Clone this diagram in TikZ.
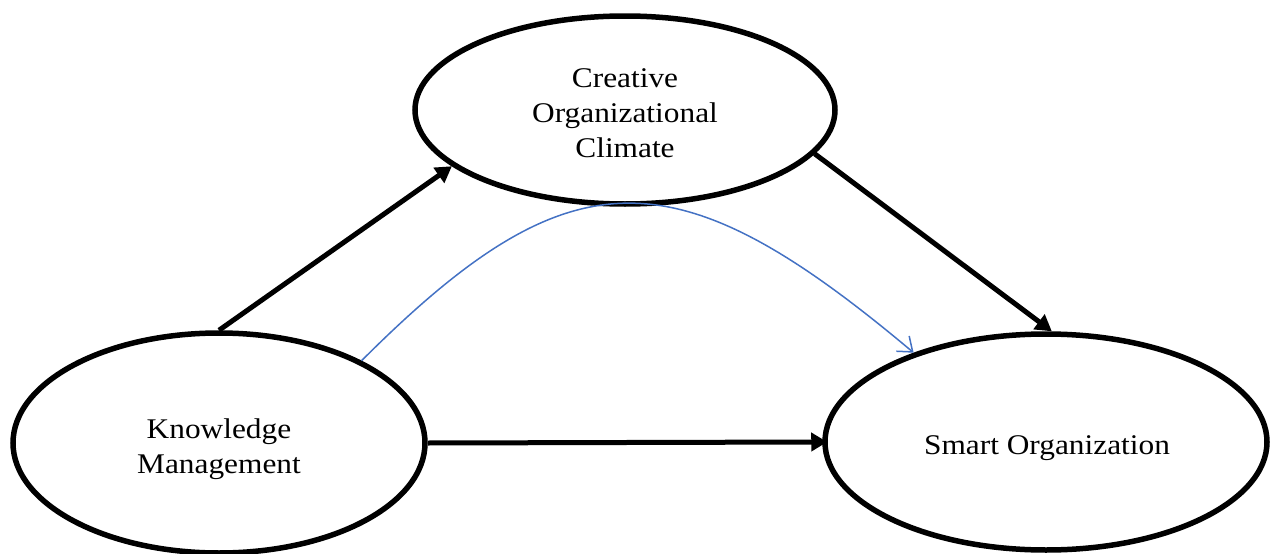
\documentclass[tikz,border=0pt]{standalone}
\usepackage{fontspec}
\setmainfont{Liberation Serif}[FakeStretch=1.1]
\usetikzlibrary{shapes.geometric,arrows.meta}
\definecolor{officeblue}{HTML}{4472C4}
\begin{document}
\begin{tikzpicture}[x=1pt,y=-1pt,
  oval/.style={ellipse, draw=black, line width=5.5pt, inner sep=0pt},
  txt/.style={align=center, inner sep=0pt, font=\fontsize{28.5}{35}\selectfont},
  bigarrow/.style={line width=5pt, -{Triangle[length=16pt,width=18pt]}},
  thinarrow/.style={draw=officeblue, line width=1.5pt, -{Straight Barb[length=13pt,width=20pt,line width=1.5pt]}}]
\useasboundingbox (0,0) rectangle (1270,554);
\node[oval, minimum width=420pt, minimum height=188pt] (coc) at (625,110) {};
\node[oval, minimum width=412pt, minimum height=220pt] (km) at (219,443) {};
\node[oval, minimum width=442pt, minimum height=216pt] (so) at (1046,442) {};
\node[txt] (coct) at (625,113) {Creative\\Organizational\\Climate};
\node[txt] (kmt) at (219,449) {Knowledge\\Management};
\node[txt] (sot) at (1047,448) {Smart Organization};
\draw[bigarrow] (km.north) -- (coc.198);
\draw[bigarrow] (coc.347) -- (so.87);
\draw[bigarrow, shorten >=-5pt] (km.east) -- (so.west);
\draw[thinarrow] (km.30) .. controls +(209,-209) and +(-238,-200) .. (so.146);
\end{tikzpicture}
\end{document}
